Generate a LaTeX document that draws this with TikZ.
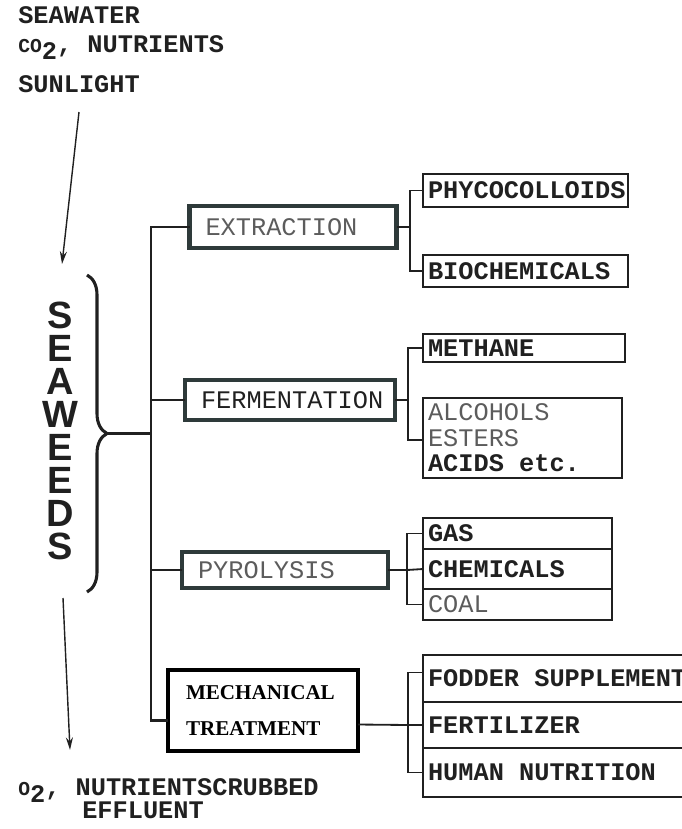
\documentclass[tikz,border=0pt]{standalone}
\usepackage{fontspec}
\setmainfont{Liberation Serif}
\setmonofont{Liberation Mono}
\newfontfamily\letterfont{Liberation Sans}
\usetikzlibrary{positioning,arrows.meta,decorations.pathreplacing}

\definecolor{boxline}{HTML}{2E3A3A}
\definecolor{inkdark}{HTML}{202020}
\definecolor{inklight}{HTML}{5C5C5C}

\newcommand{\tw}{\ttfamily\fontsize{18}{18.2}\selectfont}
\newcommand{\tgap}{\hspace{0.6em}}

\tikzset{
  proc/.style={draw=boxline, line width=3.2pt, inner xsep=0.4cm, inner ysep=0pt,
    anchor=west, align=left, outer sep=0pt, text width=#1, font=\tw, text=inklight},
  leaf/.style={draw=inkdark, line width=1.3pt, inner xsep=0.125cm, inner ysep=0pt,
    anchor=west, align=left, outer sep=0pt, text width=#1, font=\tw\bfseries, text=inkdark},
  link/.style={draw=inkdark, line width=1.3pt},
  flow/.style={draw=inkdark, line width=1pt, -{Stealth[length=9pt,width=5pt]}},
  letter/.style={font=\letterfont\bfseries\fontsize{27}{27}\selectfont, inner sep=0pt,
    text height=0.66cm, text depth=0pt, text=inkdark},
  plain/.style={anchor=base west, inner sep=0pt, font=\tw\bfseries, text=inkdark}
}

\begin{document}
\begin{tikzpicture}[x=0.025cm, y=-0.025cm]
  \clip (0,0) rectangle (682,829);

  % Inputs
  \node[plain] (water) at (18,23) {SEAWATER};
  \node[plain] (carbon) at (18,52) {{\fontsize{14}{14}\selectfont CO}\raisebox{-0.55ex}{2},\tgap NUTRIENTS};
  \node[plain] (light) at (18,92) {SUNLIGHT};

  % Seaweeds
  \foreach \l [count=\i] in {S,E,A,W,E,E,D,S}
    \node[letter] (sw\i) at (60,{315+33*(\i-1)}) {\l};
  \draw[inkdark, line width=2.2pt, decorate, decoration={brace, amplitude=0.5cm}]
    (87,275) -- (87,592);
  \coordinate (tip) at (107,433.5);
  \coordinate (trunk) at (151,433.5);

  % Arrows in and out
  \coordinate (in start) at (79,112);
  \coordinate (in end) at (62,264);
  \coordinate (out start) at (63,598);
  \coordinate (out end) at (70,750);
  \draw[flow] (in start) -- (in end);
  \draw[flow] (out start) -- (out end);

  % Processes
  \node[proc=4.375cm, minimum height=1.04cm] (extraction) at (189.5,227) {EXTRACTION};
  \node[proc=4.45cm, minimum height=1.01cm, text=inkdark] (fermentation) at (185,400) {FERMENTATION};
  \node[proc=4.35cm, minimum height=0.9cm] (pyrolysis) at (182,570) {PYROLYSIS};
  \node[draw=black, line width=2.8pt, anchor=west, inner xsep=0.45cm, inner ysep=0pt,
    outer sep=0pt, text width=3.85cm, minimum height=2.025cm, align=left,
    font=\bfseries\fontsize{15}{26}\selectfont] (mechanical) at (168,710.5)
    {MECHANICAL\\TREATMENT};

  % Products
  \node[leaf=4.875cm, minimum height=0.825cm] (phyco) at (423,190.5) {PHYCOCOLLOIDS};
  \node[leaf=4.875cm, minimum height=0.8cm] (bio) at (423,271) {BIOCHEMICALS};
  \node[leaf=4.8cm, minimum height=0.7cm] (methane) at (423,348) {METHANE};
  \node[leaf=4.725cm, minimum height=2cm] (alcohols) at (423,438)
    {\textcolor{inklight}{\mdseries ALCOHOLS}\\\textcolor{inklight}{\mdseries ESTERS}\\ACIDS\tgap etc.};
  \node[leaf=4.475cm, minimum height=0.775cm] (gas) at (423,533.5) {GAS};
  \node[leaf=4.475cm, minimum height=1cm, below=0pt of gas] (chemicals) {CHEMICALS};
  \node[leaf=4.475cm, minimum height=0.775cm, below=0pt of chemicals, text=inklight,
    font=\tw] (coal) {COAL};
  \node[leaf=7.25cm, minimum height=1.175cm] (fodder) at (423,678.5) {FODDER\tgap SUPPLEMENT};
  \node[leaf=7.25cm, minimum height=1.15cm, below=0pt of fodder] (fertilizer) {FERTILIZER};
  \node[leaf=7.25cm, minimum height=1.225cm, below=0pt of fertilizer] (human) {HUMAN\tgap NUTRITION};

  % Trunk
  \draw[link, line width=1.6pt] (tip) -- (trunk);
  \draw[link, line width=1.6pt] (extraction.west) -| (trunk) |- ([yshift=-0.25cm]mechanical.west);
  \draw[link, line width=1.6pt] (fermentation.west) -- (fermentation.west -| trunk);
  \draw[link, line width=1.6pt] (pyrolysis.west) -- (pyrolysis.west -| trunk);

  % Forks
  \coordinate (fork1) at (410,227);
  \coordinate (fork2) at (408,400);
  \coordinate (fork3) at (407,570);
  \coordinate (fork4) at (408,725);
  \draw[link] (extraction.east) -- (fork1);
  \draw[link] (phyco.west) -| (fork1) |- (bio.west);
  \draw[link] (fermentation.east) -- (fork2);
  \draw[link] (methane.west) -| (fork2) |- ([yshift=-0.05cm]alcohols.west);
  \draw[link] (pyrolysis.east) -- (fork3) -- (chemicals.west);
  \draw[link] (gas.west) -| (fork3) |- (coal.west);
  \draw[link] ([yshift=-0.35cm]mechanical.east) -- (fork4) -- (fertilizer.west);
  \draw[link] ([yshift=0.15cm]fodder.west) -| (fork4) |- (human.west);

  % Outputs
  \node[plain] (oxygen) at (18,795) {{\fontsize{14}{14}\selectfont O}\raisebox{-0.55ex}{2},\tgap NUTRIENTSCRUBBED};
  \node[plain] (effluent) at (82,818) {EFFLUENT};
\end{tikzpicture}
\end{document}
